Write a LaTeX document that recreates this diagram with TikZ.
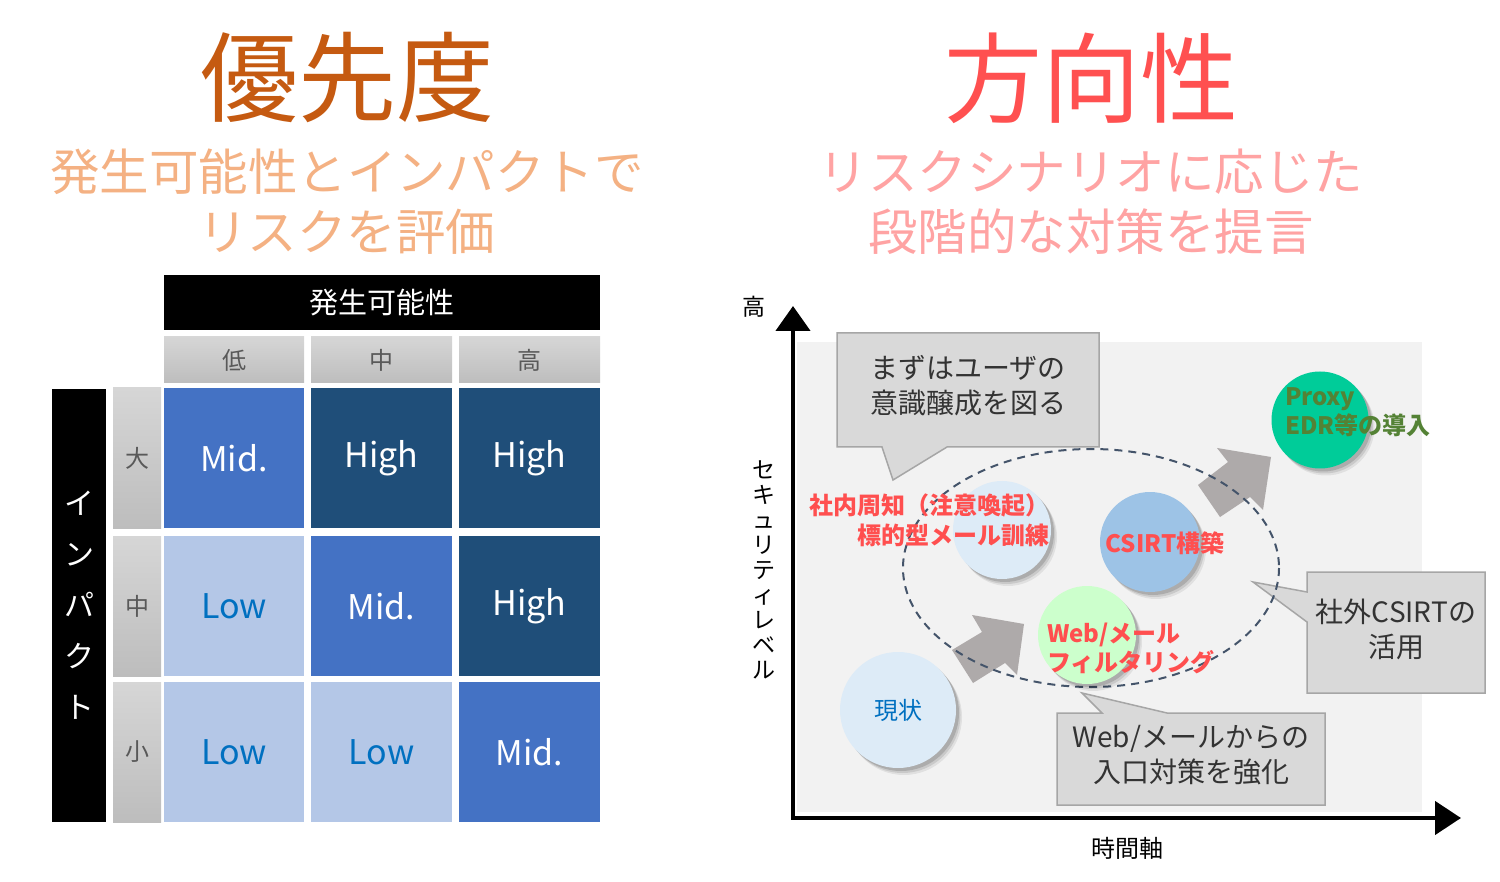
\documentclass[tikz,border=0pt]{standalone}
\usepackage{fontspec}
\setmainfont{Noto Sans CJK JP}
\usetikzlibrary{arrows.meta}
\newcommand\fsz[1]{\fontsize{#1}{#1}\selectfont}
\definecolor{cTitleL}{HTML}{C55A11}
\definecolor{cSubL}{HTML}{F4B183}
\definecolor{cTitleR}{HTML}{FF5050}
\definecolor{cSubR}{HTML}{FFA3A3}
\definecolor{cMid}{HTML}{4472C4}
\definecolor{cHigh}{HTML}{1F4E79}
\definecolor{cLow}{HTML}{B4C7E7}
\definecolor{cLowT}{HTML}{0070C0}
\definecolor{gTop}{HTML}{D6D6D6}
\definecolor{gBot}{HTML}{BDBDBD}
\definecolor{gText}{HTML}{595959}
\definecolor{cBg}{HTML}{F2F2F2}
\definecolor{cCall}{HTML}{D9D9D9}
\definecolor{cCallB}{HTML}{A6A6A6}
\definecolor{cCallT}{HTML}{333333}
\definecolor{cArrow}{HTML}{AEAAAA}
\definecolor{cEll}{HTML}{44546A}
\definecolor{cRed}{HTML}{FF4F4F}
\definecolor{cGreen}{HTML}{548235}
\definecolor{cC1}{HTML}{DDEBF7}
\definecolor{cCsirt}{HTML}{9DC3E6}
\definecolor{cProxy}{HTML}{00CC99}
\definecolor{cWeb}{HTML}{CCFFCC}
\begin{document}
\begin{tikzpicture}[x=1pt,y=-1pt,
  every node/.style={inner sep=0pt, outer sep=0pt},
  rkcell/.style={minimum width=140pt, minimum height=140pt, font=\fsz{34}},
  rkmid/.style={rkcell, fill=cMid, text=white},
  rkhigh/.style={rkcell, fill=cHigh, text=white},
  rklow/.style={rkcell, fill=cLow, text=cLowT},
  ghead/.style={top color=gTop, bottom color=gBot, text=gText, font=\fsz{24}},
  circ/.style={circle, minimum size=#1,
    preaction={fill=black, opacity=0.07, transform canvas={xshift=6pt, yshift=-7pt}},
    preaction={fill=black, opacity=0.10, transform canvas={xshift=4.5pt, yshift=-5pt}},
    preaction={fill=black, opacity=0.14, transform canvas={xshift=3pt, yshift=-3pt}}},
  cbox/.style={fill=cCall, draw=cCallB, line width=1.5pt, line join=miter},
  calltext/.style={align=center, text=cCallT, font=\fontsize{28}{35}\selectfont},
  bigarrow/.style={fill=cArrow},
  redlbl/.style={text=cRed, font=\bfseries\fontsize{24}{30}\selectfont},
]
\useasboundingbox (0,0) rectangle (1500,882);

% ---------- left: titles ----------
\node[text=cTitleL, font=\fsz{98}] (tl) at (347,78) {優先度};
\node[text=cSubL, align=center, font=\fontsize{49.5}{60}\selectfont] (sl) at (347,202) {発生可能性とインパクトで\\リスクを評価};

% ---------- left: matrix ----------
\node[fill=black, text=white, minimum width=436pt, minimum height=55pt, font=\fsz{29}] (hdr) at (382,302.5) {発生可能性};
\node[ghead, minimum width=140pt, minimum height=46pt] (pL) at (234,360) {低};
\node[ghead, minimum width=141pt, minimum height=46pt] (pM) at (381.5,360) {中};
\node[ghead, minimum width=141pt, minimum height=46pt] (pH) at (529.5,360) {高};

\node[fill=black, text=white, minimum width=54pt, minimum height=433pt, align=center, font=\fontsize{30}{51}\selectfont] (imp) at (79,605.5) {イ\\ン\\パ\\ク\\ト};
\node[ghead, minimum width=48pt, minimum height=140pt] (iL) at (137,458) {大};
\node[ghead, minimum width=48pt, minimum height=140pt] (iM) at (137,606) {中};
\node[ghead, minimum width=48pt, minimum height=140pt] (iS) at (137,752) {小};

\node[rkmid]  (c11) at (234,458) {Mid.};
\node[rkhigh, minimum width=141pt] (c12) at (381.5,458) {High};
\node[rkhigh, minimum width=141pt] (c13) at (529.5,458) {High};
\node[rklow]  (c21) at (234,606) {Low};
\node[rkmid, minimum width=141pt]  (c22) at (381.5,606) {Mid.};
\node[rkhigh, minimum width=141pt] (c23) at (529.5,606) {High};
\node[rklow]  (c31) at (234,752) {Low};
\node[rklow, minimum width=141pt]  (c32) at (381.5,752) {Low};
\node[rkmid, minimum width=141pt]  (c33) at (529.5,752) {Mid.};

% ---------- right: titles ----------
\node[text=cTitleR, font=\fsz{98}] (tr) at (1091,78) {方向性};
\node[text=cSubR, align=center, font=\fontsize{49.5}{60}\selectfont] (sr) at (1091,202) {リスクシナリオに応じた\\段階的な対策を提言};

% ---------- right: chart ----------
\node[fill=cBg, minimum width=625pt, minimum height=470pt] (plot) at (1109.5,577) {};
\coordinate (Ytip) at (793,306);
\coordinate (O) at (793,818);
\coordinate (Xtip) at (1461,818);
\draw[line width=4.5pt, line join=miter, {Triangle[width=34pt,length=25pt]}-{Triangle[width=33pt,length=26pt]}] (Ytip) -- (O) -- (Xtip);
\node[font=\fsz{23}] (hi) at (754,307) {高};
\node[font=\fsz{24}] (tax) at (1127,848) {時間軸};
\node[align=center, font=\fontsize{23}{25}\selectfont] (yax) at (764,570) {セ\\キ\\ュ\\リ\\テ\\ィ\\レ\\ベ\\ル};

% block arrows
\fill[bigarrow] (952,650) -- (982,632) -- (972,615) -- (1024,624) -- (1017,675) -- (1005,663) -- (973,683) -- cycle;
\fill[bigarrow] (1198,485) -- (1228,462) -- (1217,448) -- (1271,457) -- (1263,510) -- (1250,497) -- (1220,517) -- cycle;

% callouts
\draw[cbox] (837,333) -- (1099,333) -- (1099,447) -- (947,447) -- (893,480) -- (882,447) -- (837,447) -- cycle;
\draw[cbox] (1307,572) -- (1485,572) -- (1485,693) -- (1307,693) -- (1307,622) -- (1253,582) -- (1307,592) -- cycle;
\draw[cbox] (1057,713) -- (1102,713) -- (1082,693) -- (1167,713) -- (1325,713) -- (1325,805) -- (1057,805) -- cycle;
\node[calltext] (m1) at (968,385.5) {まずはユーザの\\意識醸成を図る};
\node[calltext] (m2) at (1396,629.5) {社外CSIRTの\\活用};
\node[calltext] (m3) at (1191,755) {Web/メールからの\\入口対策を強化};

% dashed ellipse
\coordinate (E) at (1091,568);
\draw[cEll, line width=2pt, dash pattern=on 8pt off 6pt] (E) ellipse [x radius=188, y radius=119];

% circles
\node[circ=98pt, fill=cC1] (k1) at (1002,530) {};
\node[circ=100pt, fill=cCsirt] (k2) at (1150,542) {};
\node[circ=97pt, fill=cProxy] (k3) at (1320,420) {};
\node[circ=98pt, fill=cWeb] (k4) at (1087,635) {};
\node[circ=116pt, fill=cC1, text=cLowT, font=\fsz{24}] (k0) at (898,710) {現状};

% labels
\node[redlbl, align=right, anchor=east] (t1) at (1049,520) {社内周知（注意喚起）\\標的型メール訓練};
\node[redlbl] (t2) at (1165,543) {CSIRT構築};
\node[redlbl, align=left, anchor=west, font=\bfseries\fontsize{24}{29}\selectfont] (t4) at (1047,648) {Web/メール\\フィルタリング};
\node[text=cGreen, align=left, anchor=west, font=\bfseries\fontsize{24}{29}\selectfont] (t3) at (1285,412) {Proxy\\EDR等の導入};
\end{tikzpicture}
\end{document}
